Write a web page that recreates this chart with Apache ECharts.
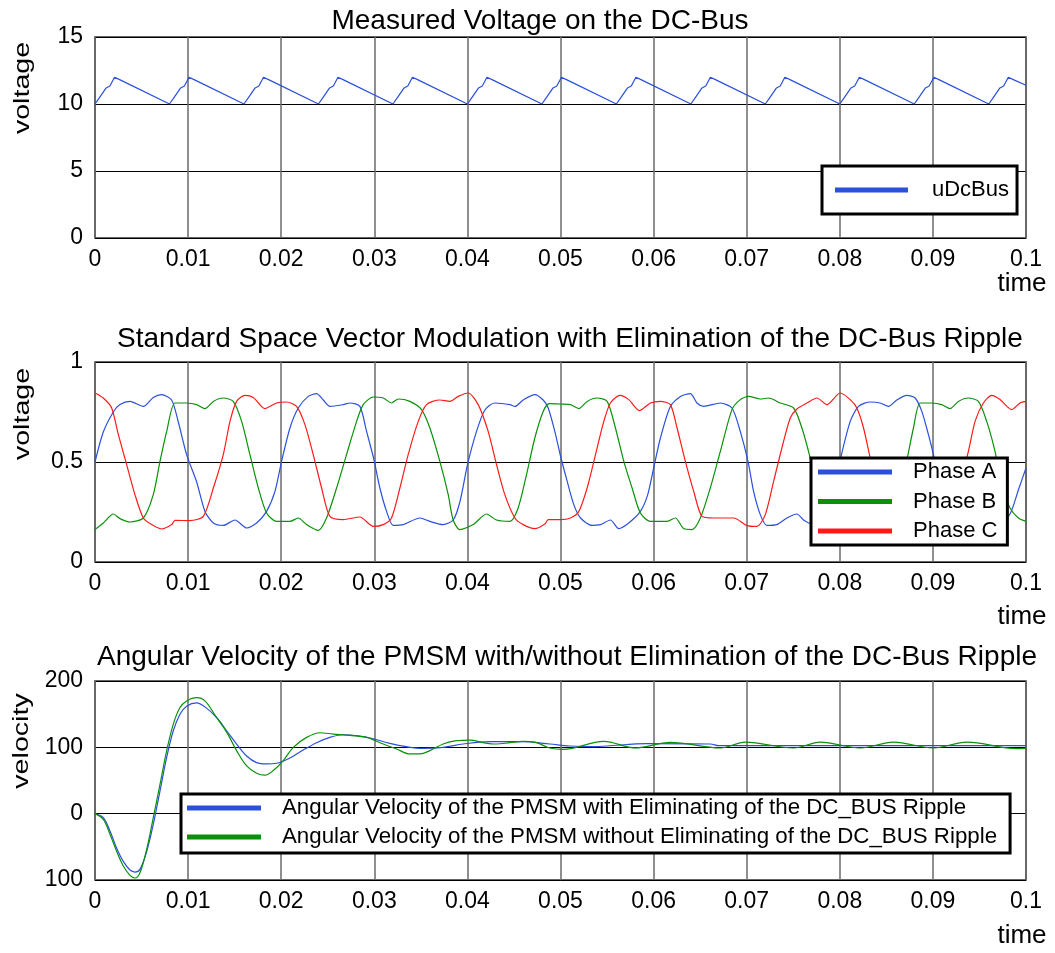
<!DOCTYPE html>
<html><head><meta charset="utf-8">
<script src="https://cdn.jsdelivr.net/npm/echarts@6/dist/echarts.min.js"></script>
<style>html,body{margin:0;padding:0;background:#fff}#c{width:1055px;height:953px}</style>
</head><body><div id="c"></div>
<script>
// ---------------- data (time in ms) ----------------
const titles = ['Measured Voltage on the DC-Bus',
  'Standard Space Vector Modulation with Elimination of the DC-Bus Ripple',
  'Angular Velocity of the PMSM with/without Elimination of the DC-Bus Ripple'];
const yNames = ['voltage', 'voltage', 'velocity'];
const xName = 'time';

const dcTimeMs = [0,0.5,1.2,1.6,2.1,2.7, 8,8.5,9.2,9.6,10.1,10.7, 16,16.5,17.2,17.6,18.1,18.7,
  24,24.5,25.2,25.6,26.1,26.7, 32,32.5,33.2,33.6,34.1,34.7, 40,40.5,41.2,41.6,42.1,42.7,
  48,48.5,49.2,49.6,50.1,50.7, 56,56.5,57.2,57.6,58.1,58.7, 64,64.5,65.2,65.6,66.1,66.7,
  72,72.5,73.2,73.6,74.1,74.7, 80,80.5,81.2,81.6,82.1,82.7, 88,88.5,89.2,89.6,90.1,90.7,
  96,96.5,97.2,97.6,98.1,98.7, 100];
const uDcBus = [10,10.5,11.2,11.35,12,11.8, 10,10.5,11.2,11.35,12,11.8, 10,10.5,11.2,11.35,12,11.8,
  10,10.5,11.2,11.35,12,11.8, 10,10.5,11.2,11.35,12,11.8, 10,10.5,11.2,11.35,12,11.8,
  10,10.5,11.2,11.35,12,11.8, 10,10.5,11.2,11.35,12,11.8, 10,10.5,11.2,11.35,12,11.8,
  10,10.5,11.2,11.35,12,11.8, 10,10.5,11.2,11.35,12,11.8, 10,10.5,11.2,11.35,12,11.8,
  10,10.5,11.2,11.35,12,11.8, 11.4];

const phaseA_t = [0,0.89,1.97,2.68,3.76,5.19,6.26,7.16,8.23,8.95,9.84,10.92,11.81,12.71,13.78,15.03,16.29,17.36,18.43,19.33,
  20.04,20.94,21.83,22.91,23.80,24.52,25.23,26.66,27.38,28.45,29.17,29.92,30.60,31.32,32.03,33.11,34.90,35.97,37.40,38.47,39.19,
  40.01,40.98,41.88,42.95,44.56,45.10,45.99,47.24,48.14,48.68,49.39,50.0,50.72,51.43,52.15,53.40,54.29,55.36,56.26,57.33,58.58,59.37,
  60.01,60.73,61.80,62.88,63.95,64.66,65.38,67.17,68.42,69.31,70.14,70.74,71.46,72.17,73.25,74.32,75.39,76.11,77.0,78.2,79.2,
  80.04,81.12,82.01,83.26,84.33,85.23,86.12,87.20,88.09,88.81,89.52,90.06,90.8,91.6,92.5,94.0,95.5,97.0,98.28,99.18,100];
const phaseA_v = [0.50,0.65,0.75,0.787,0.803,0.778,0.823,0.837,0.81,0.70,0.537,0.40,0.253,0.195,0.183,0.21,0.17,0.195,0.253,0.353,
  0.503,0.67,0.77,0.828,0.842,0.81,0.778,0.787,0.795,0.778,0.653,0.52,0.37,0.253,0.183,0.187,0.22,0.203,0.187,0.21,0.30,
  0.487,0.653,0.76,0.795,0.787,0.778,0.81,0.837,0.81,0.77,0.653,0.53,0.403,0.287,0.22,0.183,0.187,0.21,0.167,0.195,0.253,0.337,
  0.47,0.62,0.778,0.828,0.842,0.795,0.778,0.795,0.77,0.653,0.503,0.353,0.237,0.183,0.187,0.22,0.24,0.21,0.19,0.2,0.33,
  0.51,0.703,0.778,0.80,0.795,0.778,0.81,0.833,0.82,0.753,0.637,0.537,0.38,0.25,0.19,0.19,0.21,0.18,0.24,0.36,0.47];

const phaseB_t = [0,0.89,1.97,2.68,3.76,5.19,6.26,6.98,7.70,8.59,9.84,10.92,11.81,12.71,13.78,14.85,15.75,16.64,17.54,18.43,19.51,
  20.94,21.83,22.73,23.98,24.87,25.95,27.02,28.10,28.81,29.89,30.96,31.85,32.57,33.82,35.07,35.97,37.04,37.94,38.47,39.19,
  40.62,42.05,43.13,44.56,45.45,46.35,47.24,48.14,48.78,50.0,51.07,51.97,52.86,53.93,55.01,55.90,56.80,57.69,58.58,59.66,
  61.44,62.34,63.23,64.13,65.02,66.09,67.17,68.42,69.31,70.21,71.46,72.35,73.61,75.04,75.93,76.82,77.6,78.4,79.5,
  81.0,82.5,84.0,85.2,86.3,87.20,87.91,88.63,89.88,90.95,91.85,92.74,93.81,94.89,95.78,96.67,97.4,98.28,99.18,100];
const phaseB_v = [0.162,0.195,0.24,0.217,0.20,0.22,0.337,0.503,0.653,0.795,0.795,0.787,0.767,0.803,0.82,0.803,0.703,0.537,0.37,0.245,0.203,
  0.203,0.22,0.187,0.158,0.22,0.37,0.537,0.703,0.787,0.825,0.82,0.795,0.815,0.803,0.762,0.67,0.503,0.337,0.21,0.162,
  0.187,0.24,0.21,0.203,0.27,0.437,0.62,0.753,0.792,0.79,0.787,0.767,0.803,0.82,0.803,0.67,0.503,0.37,0.245,0.203,
  0.203,0.22,0.167,0.162,0.22,0.37,0.553,0.762,0.812,0.828,0.815,0.82,0.795,0.77,0.67,0.52,0.36,0.24,0.2,
  0.19,0.21,0.17,0.2,0.35,0.51,0.67,0.795,0.795,0.787,0.767,0.803,0.82,0.803,0.703,0.553,0.38,0.27,0.22,0.203];

const phaseC_t = [0,0.89,1.79,2.51,3.40,4.29,5.19,6.08,7.16,8.23,8.59,10.20,11.63,12.71,13.78,14.50,15.21,16.11,17.00,18.25,19.51,
  20.58,21.65,22.55,23.44,24.34,25.23,26.66,28.45,29.89,30.96,31.85,32.75,33.64,34.72,35.61,37.04,38.12,39.01,
  40.09,41.16,42.23,43.13,44.02,45.10,45.99,47.24,48.32,48.68,50.0,51.07,51.97,52.86,53.76,54.65,55.36,56.37,57.33,58.48,59.66,
  60.73,61.80,62.52,63.41,64.31,65.20,66.45,68.60,70.03,71.10,72.00,72.89,73.78,74.68,75.39,76.47,77.54,78.61,
  80.04,81.12,81.83,82.55,83.26,84.0,84.9,86.0,87.5,89.0,90.2,91.2,92.2,93.63,94.53,95.42,96.32,97.21,98.46,99.36,100];
const phaseC_v = [0.845,0.82,0.77,0.637,0.487,0.337,0.22,0.187,0.165,0.187,0.208,0.207,0.228,0.37,0.537,0.703,0.803,0.833,0.823,0.767,0.795,
  0.80,0.778,0.687,0.537,0.37,0.228,0.212,0.225,0.178,0.187,0.22,0.37,0.537,0.703,0.787,0.81,0.803,0.828,
  0.845,0.787,0.653,0.487,0.337,0.22,0.187,0.167,0.19,0.212,0.212,0.22,0.253,0.37,0.537,0.703,0.795,0.833,0.812,0.757,0.795,
  0.803,0.787,0.67,0.503,0.353,0.228,0.22,0.22,0.182,0.178,0.237,0.403,0.57,0.72,0.765,0.795,0.82,0.787,
  0.845,0.812,0.77,0.67,0.52,0.37,0.24,0.21,0.22,0.18,0.18,0.22,0.35,0.52,0.703,0.795,0.833,0.812,0.762,0.795,0.803];

const velWith_t = [0,0.89,1.61,2.33,3.04,3.76,4.29,4.83,5.55,6.26,6.98,7.70,8.41,9.13,9.84,10.92,11.81,13.06,14.14,15.21,16.29,17.36,
  18.43,19.51,20.94,22.37,23.80,25.23,26.66,28.45,29.89,31.67,33.46,35.25,37.40,39.55,42.41,45.99,48.85,51.0,53.6,55.0,59.3,66.1,67.0,80,100];
const velWith_v = [0,-6,-26,-52,-72,-85,-88,-84,-57,-16,34,85,125,150,162,167,161,145,125,105,87,77,
  75,76,84,96,107,115,119,117,113,106,101,98.5,100,105,108.5,108.5,105,102,101,102,105.5,105,102.5,102.5,102.5];
const velWithout_t = [0,0.89,1.61,2.33,3.04,3.76,4.29,4.83,5.55,6.26,6.98,7.70,8.41,9.13,9.84,10.92,11.81,13.06,14.14,15.21,16.29,17.36,
  18.25,19.15,20.22,21.30,22.73,24.16,25.59,27.38,29.17,30.96,32.39,33.82,34.90,35.97,37.40,38.83,40.26,41.70,43.13,44.56,45.99,47.42,48.85,
  50.29,54.65,58.05,61.80,67.17,69.85,75.04,77.9,82.2,85.76,90.06,93.63,99.0,100];
const velWithout_v = [0,-8.6,-31,-57,-79,-93,-97,-89,-54,-6,44,95,135,160,170,175,170,145,123,95,72,61,
  58,65,80,100,115,122,120,118,115,105,97.5,90,90,95,105,110,111,107,105,107,109,107,99,
  97,109,99,107.5,99,108,99,108,99,108,99,108,98,98.5];

const legendNames = [['uDcBus'], ['Phase A','Phase B','Phase C'],
  ['Angular Velocity of the PMSM with Eliminating of the DC_BUS Ripple',
   'Angular Velocity of the PMSM without Eliminating of the DC_BUS Ripple']];

// ---------------- chart ----------------
const FONT = '"Liberation Sans", Arial, Helvetica, sans-serif';
const BLUE = '#2a50dc', GREEN = '#0a900a', RED = '#ff1a1a';
const pairs = (t, v) => t.map((x, i) => [x / 1000, v[i]]);

const gridTops = [37, 362, 681], gridHeights = [201, 200, 199];
const timeNamePad = [33, 42, 43];
const yCfg = [{min:0,max:15,interval:5},{min:0,max:1,interval:0.5},{min:-100,max:200,interval:100}];

const grids = gridTops.map((t, i) => ({left:95, top:t, width:931, height:gridHeights[i],
  show:true, borderColor:'#333', borderWidth:1.5, backgroundColor:'transparent'}));

const xAxes = grids.map((g, i) => ({
  type:'value', gridIndex:i, min:0, max:0.1, interval:0.01,
  name:xName, nameLocation:'end', nameGap:-4, nameMoveOverlap:false,
  nameTextStyle:{fontFamily:FONT, fontSize:26, color:'#000', align:'center', verticalAlign:'top', padding:[timeNamePad[i],0,0,0]},
  axisLine:{show:false, onZero:false}, axisTick:{show:false},
  axisLabel:{fontFamily:FONT, fontSize:23, color:'#000', margin:10, showMinLabel:true, showMaxLabel:true},
  splitLine:{show:true, lineStyle:{color:'#6a6a6a', width:1.5}}
}));
const yAxes = yCfg.map((c, i) => ({
  type:'value', gridIndex:i, min:c.min, max:c.max, interval:c.interval,
  axisLine:{show:false, onZero:false}, axisTick:{show:false},
  axisLabel:{fontFamily:FONT, fontSize:23, color:'#000', margin:12,
    formatter: v => String(Math.abs(v))},
  splitLine:{show:true, lineStyle:{color:'#000', width:1}}
}));

const lineS = (name, data, color, xi, smooth) => ({
  type:'line', name, data, xAxisIndex:xi, yAxisIndex:xi, color, showSymbol:false, symbol:'none',
  smooth: smooth, lineStyle:{color, width:1.2}, z:2
});

const series = [
  lineS('uDcBus', pairs(dcTimeMs, uDcBus), BLUE, 0, false),
  lineS('Phase A', pairs(phaseA_t, phaseA_v), BLUE, 1, 0.25),
  lineS('Phase B', pairs(phaseB_t, phaseB_v), GREEN, 1, 0.25),
  lineS('Phase C', pairs(phaseC_t, phaseC_v), RED, 1, 0.25),
  lineS(legendNames[2][0], pairs(velWith_t, velWith_v), BLUE, 2, 0.35),
  lineS(legendNames[2][1], pairs(velWithout_t, velWithout_v), GREEN, 2, 0.35)
];

const legendCommon = (names, left, top, padding, gap, lh, textPad, iw, fs) => ({
  data:names, left, top, orient:'vertical', padding, itemGap:gap,
  backgroundColor:'#fff', borderColor:'#000', borderWidth:3, borderRadius:0,
  icon:'rect', itemWidth:iw, itemHeight:5, selectedMode:false,
  formatter: n => '{a|' + n + '}',
  textStyle:{fontFamily:FONT, fontSize:fs, color:'#000',
    rich:{a:{fontFamily:FONT, fontSize:fs, color:'#000', lineHeight:lh, padding:[0,0,0,textPad]}}}
});

const legends = [
  legendCommon(legendNames[0], 822, 166, [13,8,13,13], 0, 24, 19, 73, 22),
  legendCommon(legendNames[1], 811, 458, [3,10,3,7], 7.5, 22, 16, 74, 22),
  legendCommon(legendNames[2], 181, 794, [3,13,5,6], 7, 24, 16, 74, 22.3)
];

const txt = (text, x, y, size, extra) => Object.assign({type:'text', x, y, silent:true,
  style:{text, font: size + 'px ' + FONT, fill:'#000', align:'center', verticalAlign:'middle',
    textAlign:'center', textVerticalAlign:'middle'}}, extra || {});

const graphic = [
  txt(titles[0], 540, 21, 28),
  txt(titles[1], 570, 339, 28),
  txt(titles[2], 567, 657, 28),
  txt(yNames[0], 23, 88, 22, {rotation:Math.PI/2, scaleX:1.3}),
  txt(yNames[1], 23, 414, 22, {rotation:Math.PI/2, scaleX:1.3}),
  txt(yNames[2], 22, 741, 22, {rotation:Math.PI/2, scaleX:1.3})
];

const chart = echarts.init(document.getElementById('c'), null, {renderer:'canvas'});
chart.setOption({
  backgroundColor:'#fff', animation:false,
  grid:grids, xAxis:xAxes, yAxis:yAxes, series, legend:legends, graphic
});
</script></body></html>
